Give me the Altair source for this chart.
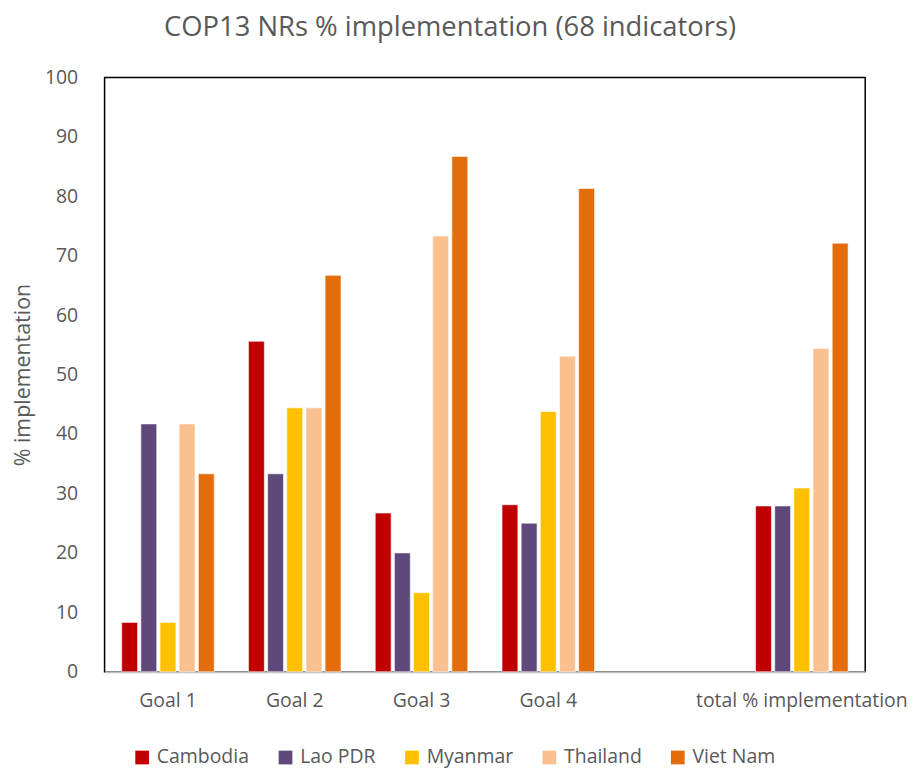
import altair as alt
import pandas as pd

categories = ["Goal 1", "Goal 2", "Goal 3", "Goal 4", " ", "total % implementation"]
countries = ["Cambodia", "Lao PDR", "Myanmar", "Thailand", "Viet Nam"]
colors = ["#C00000", "#5F497A", "#FFC000", "#FAC090", "#E46C0A"]

goals = ["Goal 1", "Goal 2", "Goal 3", "Goal 4", "total % implementation"]
cambodia = [8.3, 55.6, 26.7, 28.1, 27.9]
lao = [41.7, 33.3, 20.0, 25.0, 27.9]
myanmar = [8.3, 44.4, 13.3, 43.8, 30.9]
thailand = [41.7, 44.4, 73.3, 53.1, 54.4]
vietnam = [33.3, 66.7, 86.7, 81.3, 72.1]

series = [cambodia, lao, myanmar, thailand, vietnam]
rows = []
for c, vals in zip(countries, series):
    for g, v in zip(goals, vals):
        rows.append({"goal": g, "country": c, "value": v})
df = pd.DataFrame(rows)

font = "Open Sans"
grey = "#595959"

chart = alt.Chart(df).mark_bar(stroke="white", strokeWidth=0.6).encode(
    x=alt.X("goal:N", sort=categories,
            scale=alt.Scale(domain=categories, paddingInner=0.27, paddingOuter=0.135),
            axis=alt.Axis(title=None, labelAngle=0, ticks=False, domainColor="#BFBFBF",
                          domainWidth=2, labelPadding=20, labelFontSize=19.5,
                          labelLimit=0, labelColor=grey, labelFont=font)),
    xOffset=alt.XOffset("country:N", sort=countries,
                        scale=alt.Scale(paddingInner=0.17)),
    y=alt.Y("value:Q", scale=alt.Scale(domain=[0, 100], nice=False),
            axis=alt.Axis(title="% implementation", values=list(range(0, 101, 10)),
                          grid=False, ticks=False, domain=False, labelPadding=27,
                          labelFontSize=19.5, labelColor=grey, labelFont=font,
                          titleFontSize=21.5, titleColor=grey, titleFont=font,
                          titleFontWeight="normal", titlePadding=10)),
    color=alt.Color("country:N", sort=countries,
                    scale=alt.Scale(domain=countries, range=colors),
                    legend=alt.Legend(title=None, orient="none", direction="horizontal",
                                      legendX=28, legendY=673, symbolType="square",
                                      symbolSize=190, symbolStrokeWidth=0,
                                      labelFontSize=19.5, labelColor=grey, labelFont=font,
                                      columnPadding=26, labelOffset=5)),
).properties(
    width=764, height=597,
    title=alt.TitleParams("COP13 NRs % implementation (68 indicators)", fontSize=27.5,
                          font=font, color=grey, fontWeight="normal",
                          anchor="middle", dx=-35, offset=26),
    padding={"left": 4, "top": 4, "right": 4, "bottom": 4},
    autosize=alt.AutoSizeParams(type="pad"),
).configure_view(stroke="black", strokeWidth=1.5)

chart.save("out.html", embed_options={"renderer": "svg", "actions": False})
